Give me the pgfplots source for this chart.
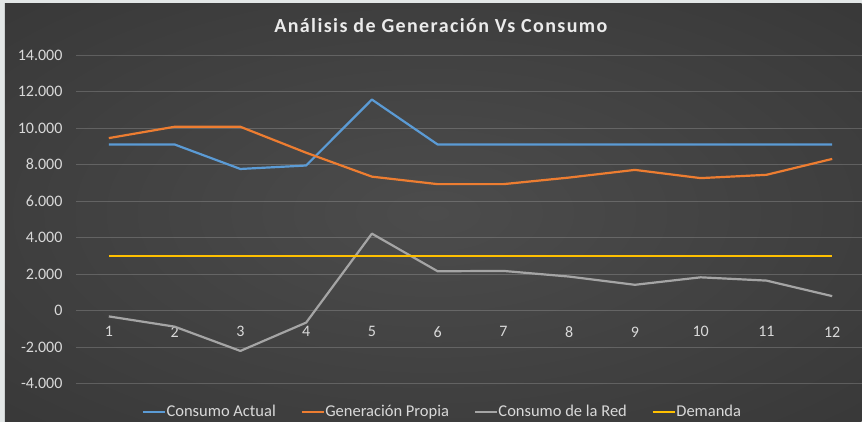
\documentclass[border=0pt]{standalone}
\usepackage{fontspec}
\setmainfont{Carlito}
\newfontfamily\titlefont[LetterSpace=7]{Carlito}
\usepackage{pgfplots}
\pgfplotsset{compat=1.18}
\definecolor{cA}{HTML}{5B9BD5}
\definecolor{cB}{HTML}{ED7D31}
\definecolor{cC}{HTML}{A5A5A5}
\definecolor{cD}{HTML}{FFC000}
\definecolor{frame}{HTML}{E3E7E7}
\definecolor{bgin}{HTML}{4C4C4C}
\definecolor{bgmid}{HTML}{363636}
\definecolor{bgout}{HTML}{242424}
\definecolor{txt}{HTML}{D9D9D9}
\pgfdeclareradialshading{bgshade}{\pgfpoint{0bp}{0bp}}{color(0bp)=(bgin); color(40bp)=(bgmid); color(72bp)=(bgout)}
\begin{document}
\begin{tikzpicture}[x=1bp,y=1bp]
\fill[frame] (0,0) rectangle (862,422);
\shade[shading=bgshade] (5,0) rectangle (862,418);
\node[anchor=base,text=white!92!black,font=\titlefont\fontsize{20bp}{22bp}\selectfont\bfseries] at (441,389.5) {Análisis de Generación Vs Consumo};
\begin{axis}[
  at={(76bp,38bp)}, anchor=south west, scale only axis,
  width=786bp, height=329bp,
  xmin=0.5, xmax=12.447, ymin=-4000, ymax=14000,
  xtick={1,...,12}, ytick={-4000,-2000,...,14000},
  scaled y ticks=false,
  /pgf/number format/.cd, 1000 sep={.}, min exponent for 1000 sep=3, assume math mode=true,
  /pgfplots/.cd,
  axis line style={draw=none},
  major tick length=0,
  ymajorgrids, major grid style={white, opacity=0.18, line width=0.8bp},
  tick label style={text=txt, font=\fontsize{16bp}{18bp}\selectfont},
  xticklabel style={anchor=center, yshift=52bp},
  yticklabel style={anchor=east, xshift=-10bp},
  every axis plot/.append style={line width=2.2bp, line join=round, no markers},
  legend style={draw=none, fill=none, text=txt, font=\fontsize{16.5bp}{18bp}\selectfont,
    at={(0.466,-0.085)}, anchor=center, legend columns=4,
    /tikz/every even column/.append style={column sep=24bp},
    nodes={inner sep=1bp}},
  legend image code/.code={\draw[#1,line width=1.5bp] (0bp,0bp)--(22bp,0bp);},
]
\addplot[cA] coordinates {(1,9100)(2,9100)(3,7760)(4,7950)(5,11560)(6,9100)(7,9100)(8,9100)(9,9100)(10,9100)(11,9100)(12,9100)};
\addlegendentry{Consumo Actual}
\addplot[cB] coordinates {(1,9450)(2,10070)(3,10070)(4,8650)(5,7340)(6,6930)(7,6930)(8,7290)(9,7710)(10,7260)(11,7440)(12,8310)};
\addlegendentry{Generación Propia}
\addplot[cC] coordinates {(1,-310)(2,-870)(3,-2200)(4,-650)(5,4220)(6,2160)(7,2180)(8,1870)(9,1420)(10,1830)(11,1650)(12,800)};
\addlegendentry{Consumo de la Red}
\addplot[cD] coordinates {(1,3000)(2,3000)(3,3000)(4,3000)(5,3000)(6,3000)(7,3000)(8,3000)(9,3000)(10,3000)(11,3000)(12,3000)};
\addlegendentry{Demanda}
\end{axis}
\end{tikzpicture}
\end{document}
